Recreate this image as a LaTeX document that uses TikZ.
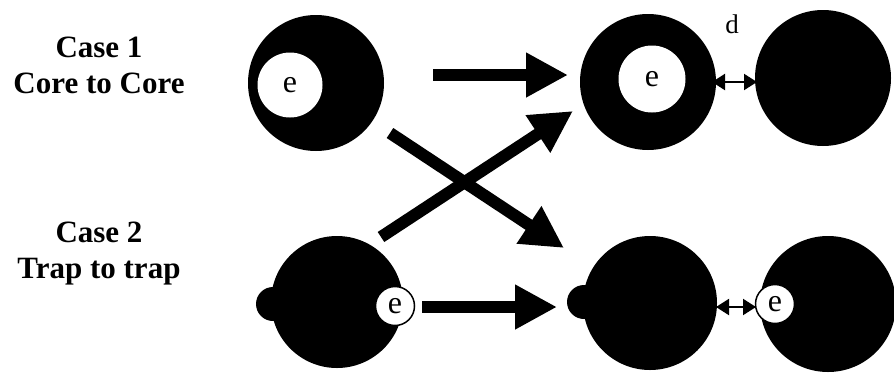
\documentclass[tikz,border=0pt]{standalone}
\usepackage{fontspec}
\setmainfont{Liberation Serif}
\usetikzlibrary{arrows.meta}
\begin{document}
\begin{tikzpicture}[x=1pt,y=-1pt,
  ball/.style={circle,fill=black,inner sep=0pt,minimum size=#1},
  hole/.style={circle,fill=white,inner sep=0pt,minimum size=#1,font=\fontsize{32}{32}\selectfont},
  trapc/.style={circle,fill=white,draw=black,line width=1.5pt,inner sep=0pt,minimum size=#1,font=\fontsize{32}{32}\selectfont},
  label/.style={font=\fontsize{31}{36}\selectfont\bfseries,align=center},
  bigarrow/.style={line width=12pt,-{Triangle[length=42pt,width=42pt]}},
  smallarrow/.style={line width=2pt,{Triangle[length=13pt,width=16pt]}-{Triangle[length=13pt,width=16pt]}}]
\useasboundingbox (0,0) rectangle (894,373);
% labels
\node[label] (c1) at (99,65) {Case 1\\Core to Core};
\node[label] (c2) at (99,254) {Case 2\\Trap to trap};
% top-left
\node[ball=136pt] (A) at (316,83) {};
\node[hole=65pt] (Ah) at (290,85) {e};
% bottom-left
\node[ball=34pt] (Bb) at (273,304) {};
\node[ball=132pt] (B) at (337,302) {};
\node[trapc=39pt] (Bt) at (395,306) {e};
% top-right
\node[ball=136pt] (C) at (648,82) {};
\node[hole=67pt] (Ch) at (652,79) {e};
\node[ball=136pt] (D) at (823,78) {};
\node[font=\fontsize{27}{27}\selectfont] (d) at (732,24) {d};
% bottom-right
\node[ball=34pt] (Eb) at (584,302) {};
\node[ball=134pt] (E) at (650,303) {};
\node[ball=136pt] (F) at (828,304) {};
\node[trapc=39pt] (Ft) at (775,304) {e};
% arrows
\coordinate (a1s) at (433,75);
\coordinate (a1e) at (568,75);
\coordinate (a2s) at (422,307);
\coordinate (a2e) at (557,307);
\coordinate (a3s) at (390,133);
\coordinate (a3e) at (564,248);
\coordinate (a4s) at (381,237);
\coordinate (a4e) at (573,111);
\draw[bigarrow] (a1s) -- (a1e);
\draw[bigarrow] (a2s) -- (a2e);
\draw[bigarrow] (a3s) -- (a3e);
\draw[bigarrow] (a4s) -- (a4e);
\coordinate (s1s) at (712,82);
\coordinate (s1e) at (757,82);
\coordinate (s2s) at (716,307);
\coordinate (s2e) at (756,307);
\draw[smallarrow] (s1s) -- (s1e);
\draw[smallarrow] (s2s) -- (s2e);
\end{tikzpicture}
\end{document}
